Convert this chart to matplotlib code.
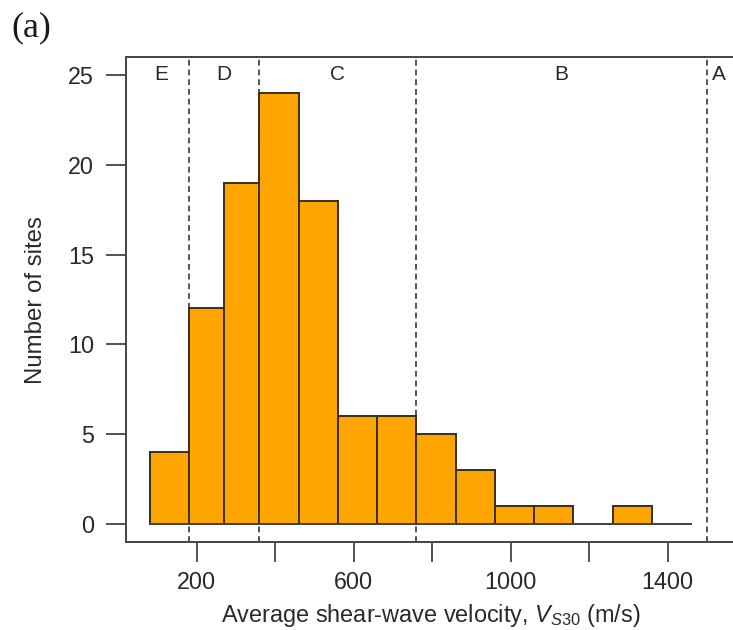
import numpy as np
import matplotlib
matplotlib.use('Agg')
import matplotlib.pyplot as plt

plt.rcParams['font.family'] = ['Liberation Sans', 'DejaVu Sans']
plt.rcParams['mathtext.fontset'] = 'custom'
plt.rcParams['mathtext.rm'] = 'Liberation Sans'
plt.rcParams['mathtext.it'] = 'Liberation Sans:italic'

# ------------------------------
# Histogram data (Vs30 bins, number of sites per bin)
# ------------------------------
bin_edges = [80, 180, 270, 360, 460, 560, 660, 760, 860, 960, 1060, 1160, 1260, 1360, 1460]
site_counts = [4, 12, 19, 24, 18, 6, 6, 5, 3, 1, 1, 0, 1, 0]

# NEHRP site class boundaries and labels
class_bounds = [180, 360, 760, 1500]
class_names = ['E', 'D', 'C', 'B', 'A']
class_label_x = [110, 270, 560, 1130, 1530]

x_ticks = [200, 400, 600, 800, 1000, 1200, 1400]
x_ticklabels = ['200', '', '600', '', '1000', '', '1400']
y_ticks = [0, 5, 10, 15, 20, 25]

edge_col = '#444444'
text_col = '#2a2a2a'

fig = plt.figure(figsize=(7.33, 6.3), dpi=100)
ax = fig.add_axes([126/733, 1 - 542/630, (750 - 126)/733, (542 - 57)/630])

edges = np.array(bin_edges)
ax.bar(edges[:-1], site_counts, width=np.diff(edges), align='edge',
       color='#FFA500', edgecolor='#3a2e1a', linewidth=1.4, zorder=3)
ax.plot([edges[0], edges[-1]], [0, 0], color=edge_col, lw=1.4, zorder=4)

for xb in class_bounds:
    ax.axvline(xb, color='#555555', lw=1.4, ls=(0, (3, 2)), zorder=2)
for xl, name in zip(class_label_x, class_names):
    ax.text(xl, 25, name, ha='center', va='center', fontsize=15, color=text_col)

ax.set_xlim(20, 1610)
ax.set_ylim(-1, 26)
ax.set_xticks(x_ticks)
ax.set_xticklabels(x_ticklabels)
ax.set_yticks(y_ticks)

for s in ax.spines.values():
    s.set_color(edge_col)
    s.set_linewidth(1.4)
ax.tick_params(direction='out', length=14.4, width=1.3, color=edge_col,
               labelsize=16.8, labelcolor=text_col)
ax.tick_params(axis='x', pad=6.5)
ax.tick_params(axis='y', pad=8.5)

fig.text(36/733, 1 - 300/630, 'Number of sites', rotation=90, ha='center', va='center',
         fontsize=17.3, color=text_col)
fig.text(431/733, 1 - 622/630, r'Average shear-wave velocity, $V_{\mathit{S30}}$ (m/s)',
         ha='center', va='baseline', fontsize=16.9, color=text_col)
fig.text(11/733, 1 - 11/630, '(a)', ha='left', va='top', fontsize=26,
         family='Liberation Serif', color='#1a1a1a')

fig.savefig('out.png', dpi=100)
